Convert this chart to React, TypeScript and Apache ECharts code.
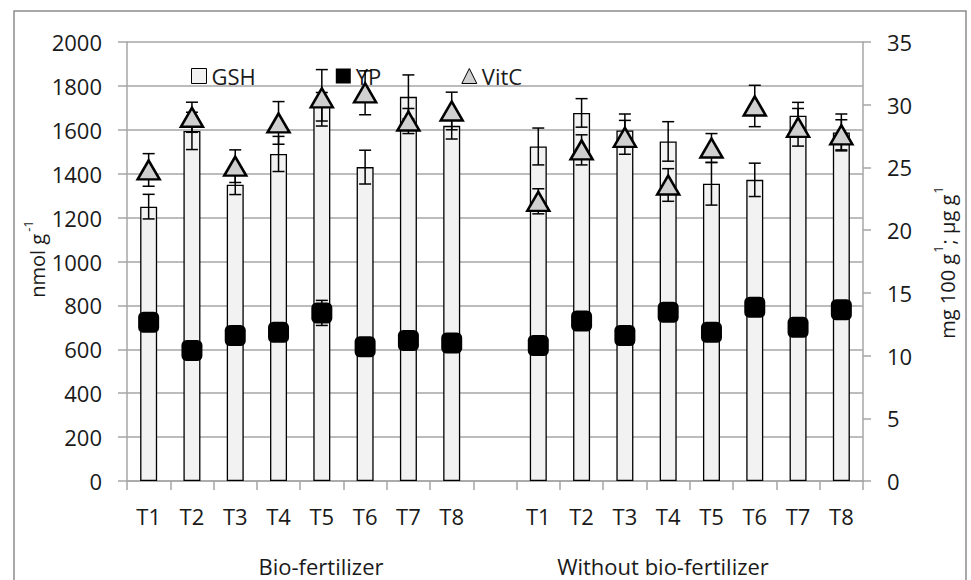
import React, { useEffect, useRef } from "react";
import * as echarts from "echarts";

const treatments = ["T1", "T2", "T3", "T4", "T5", "T6", "T7", "T8"];
const categories = [...treatments, "", ...treatments];
const groupLabels = ["Bio-fertilizer", "Without bio-fertilizer"];

const bioGSH = [1250, 1595, 1350, 1490, 1705, 1430, 1750, 1618];
const bioGSHErr = [56, 85, 45, 80, 65, 77, 100, 60];
const woGSH = [1524, 1677, 1597, 1547, 1354, 1372, 1664, 1588];
const woGSHErr = [84, 65, 75, 90, 97, 76, 61, 84];

const bioYP = [12.65, 10.4, 11.6, 11.85, 13.4, 10.7, 11.2, 11.0];
const bioYPErr = [0.5, 0.4, 0.4, 0.4, 1.0, 0.4, 0.4, 0.4];
const woYP = [10.8, 12.75, 11.6, 13.45, 11.85, 13.85, 12.25, 13.65];
const woYPErr = [0.5, 0.5, 0.4, 0.5, 0.4, 0.5, 0.4, 0.5];

const bioVitC = [24.8, 29.0, 25.1, 28.55, 30.55, 30.95, 28.7, 29.5];
const bioVitCErr = [1.3, 1.2, 1.3, 1.7, 2.25, 1.75, 1.0, 1.5];
const woVitC = [22.3, 26.4, 27.4, 23.6, 26.55, 29.9, 28.2, 27.6];
const woVitCErr = [1.0, 1.2, 1.35, 1.3, 1.15, 1.65, 1.5, 1.2];

const leftTicks = { min: 0, max: 2000, interval: 200 };
const rightTicks = { min: 0, max: 35, interval: 5 };

const FONT = "'Open Sans', 'Liberation Sans', sans-serif";
const TXT = "#1a1a1a";
const GRID = "#a6a6a6";

function join(a: number[], b: number[]): (number | null)[] {
  return [...a, null, ...b];
}

function errData(vals: (number | null)[], errs: (number | null)[]) {
  const out: number[][] = [];
  vals.forEach((v, i) => {
    if (v == null) return;
    const e = errs[i] as number;
    out.push([i, v - e, v + e]);
  });
  return out;
}

function errRender(params: any, api: any) {
  const x = api.value(0);
  const p1 = api.coord([x, api.value(1)]);
  const p2 = api.coord([x, api.value(2)]);
  const w = 6;
  const style = { stroke: "#000", lineWidth: 1.5 };
  return {
    type: "group",
    children: [
      { type: "line", shape: { x1: p1[0], y1: p1[1], x2: p2[0], y2: p2[1] }, style },
      { type: "line", shape: { x1: p1[0] - w, y1: p1[1], x2: p1[0] + w, y2: p1[1] }, style },
      { type: "line", shape: { x1: p2[0] - w, y1: p2[1], x2: p2[0] + w, y2: p2[1] }, style },
    ],
  };
}

export default function App() {
  const ref = useRef<HTMLDivElement>(null);
  useEffect(() => {
    if (!ref.current) return;
    const chart = echarts.init(ref.current, undefined, { renderer: "svg" });
    const gsh = join(bioGSH, woGSH);
    const gshErr = join(bioGSHErr, woGSHErr);
    const yp = join(bioYP, woYP);
    const ypErr = join(bioYPErr, woYPErr);
    const vitc = join(bioVitC, woVitC);
    const vitcErr = join(bioVitCErr, woVitCErr);

    const option: any = {
      animation: false,
      backgroundColor: "#fff",
      textStyle: { fontFamily: FONT },
      grid: { left: 127, right: 108, top: 42, bottom: 99, containLabel: false },
      legend: {
        left: 186,
        top: 60,
        itemWidth: 15,
        itemHeight: 15,
        itemGap: 80,
        textStyle: { fontSize: 22, color: TXT, fontFamily: FONT },
        data: [
          { name: "GSH", icon: "rect", itemStyle: { color: "#f2f2f2", borderColor: "#000", borderWidth: 1 } },
          { name: "YP", icon: "rect", itemStyle: { color: "#000", borderWidth: 0 } },
          { name: "VitC", icon: "triangle", itemStyle: { color: "#d0d0d0", borderColor: "#000", borderWidth: 1 } },
        ],
      },
      xAxis: {
        type: "category",
        data: categories,
        boundaryGap: true,
        axisLine: { show: true, lineStyle: { color: GRID, width: 1.5 } },
        axisTick: { show: true, alignWithLabel: false, interval: 0, length: 9, lineStyle: { color: GRID, width: 1.5 } },
        axisLabel: { interval: 0, margin: 24, fontSize: 22, color: TXT, fontFamily: FONT },
        splitLine: { show: false },
      },
      yAxis: [
        {
          type: "value",
          ...leftTicks,
          position: "left",
          axisLine: { show: true, lineStyle: { color: GRID, width: 1.5 } },
          axisTick: { show: true, length: 9, lineStyle: { color: GRID, width: 1.5 } },
          axisLabel: { margin: 25, fontSize: 22, color: TXT, fontFamily: FONT, formatter: (v: number) => String(v) },
          splitLine: { show: true, lineStyle: { color: GRID, width: 1.5 } },
        },
        {
          type: "value",
          ...rightTicks,
          position: "right",
          axisLine: { show: true, lineStyle: { color: GRID, width: 1.5 } },
          axisTick: { show: true, length: 8, lineStyle: { color: GRID, width: 1.5 } },
          axisLabel: { margin: 24, fontSize: 22, color: TXT, fontFamily: FONT, formatter: (v: number) => String(v) },
          splitLine: { show: false },
        },
      ],
      graphic: [
        {
          type: "rect",
          silent: true,
          z: -10,
          shape: { x: 14, y: 11, width: 952, height: 600 },
          style: { fill: "none", stroke: "#8c8c8c", lineWidth: 1.5 },
        },
        {
          type: "text",
          x: 34,
          y: 259,
          rotation: Math.PI / 2,
          style: {
            text: "{a|nmol g}{s|-1}",
            align: "center",
            verticalAlign: "middle",
            fill: TXT,
            rich: {
              a: { fontSize: 20, fontFamily: FONT, fill: TXT, lineHeight: 26, verticalAlign: "bottom" },
              s: { fontSize: 13, fontFamily: FONT, fill: TXT, lineHeight: 26, verticalAlign: "top", padding: [0, 0, 0, 2] },
            },
          },
        },
        {
          type: "text",
          x: 944,
          y: 262,
          rotation: Math.PI / 2,
          style: {
            text: "{a|mg 100 g}{s|1}{a|; µg g}{s|1}",
            align: "center",
            verticalAlign: "middle",
            fill: TXT,
            rich: {
              a: { fontSize: 20, fontFamily: FONT, fill: TXT, lineHeight: 26, verticalAlign: "bottom" },
              s: { fontSize: 13, fontFamily: FONT, fill: TXT, lineHeight: 26, verticalAlign: "top", padding: [0, 1, 0, 1] },
            },
          },
        },
        {
          type: "text",
          x: 321,
          y: 566,
          style: { text: groupLabels[0], fontSize: 22, fontFamily: FONT, fill: TXT, align: "center", verticalAlign: "middle" },
        },
        {
          type: "text",
          x: 663,
          y: 566,
          style: { text: groupLabels[1], fontSize: 22, fontFamily: FONT, fill: TXT, align: "center", verticalAlign: "middle" },
        },
      ],
      series: [
        {
          name: "GSH",
          type: "bar",
          yAxisIndex: 0,
          data: gsh,
          barWidth: 17,
          itemStyle: { color: "#f2f2f2", borderColor: "#000", borderWidth: 1.3 },
          z: 2,
        },
        {
          name: "GSH err",
          type: "custom",
          yAxisIndex: 0,
          data: errData(gsh, gshErr),
          encode: { x: 0, y: [1, 2] },
          renderItem: errRender,
          z: 3,
          silent: true,
        },
        {
          name: "YP err",
          type: "custom",
          yAxisIndex: 1,
          data: errData(yp, ypErr),
          encode: { x: 0, y: [1, 2] },
          renderItem: errRender,
          z: 3,
          silent: true,
        },
        {
          name: "YP",
          type: "scatter",
          yAxisIndex: 1,
          data: yp,
          symbol: "roundRect",
          symbolSize: 21,
          itemStyle: { color: "#000", opacity: 1 },
          z: 4,
        },
        {
          name: "VitC err",
          type: "custom",
          yAxisIndex: 1,
          data: errData(vitc, vitcErr),
          encode: { x: 0, y: [1, 2] },
          renderItem: errRender,
          z: 5,
          silent: true,
        },
        {
          name: "VitC",
          type: "scatter",
          yAxisIndex: 1,
          data: vitc,
          symbol: "triangle",
          symbolSize: [22, 19],
          itemStyle: { color: "#d0d0d0", borderColor: "#000", borderWidth: 2.5, opacity: 1 },
          z: 6,
        },
      ],
    };
    chart.setOption(option);
    return () => chart.dispose();
  }, []);
  return (
    <div
      ref={ref}
      style={{ position: "fixed", left: 0, top: 0, width: 971, height: 580, background: "#fff" }}
    />
  );
}
